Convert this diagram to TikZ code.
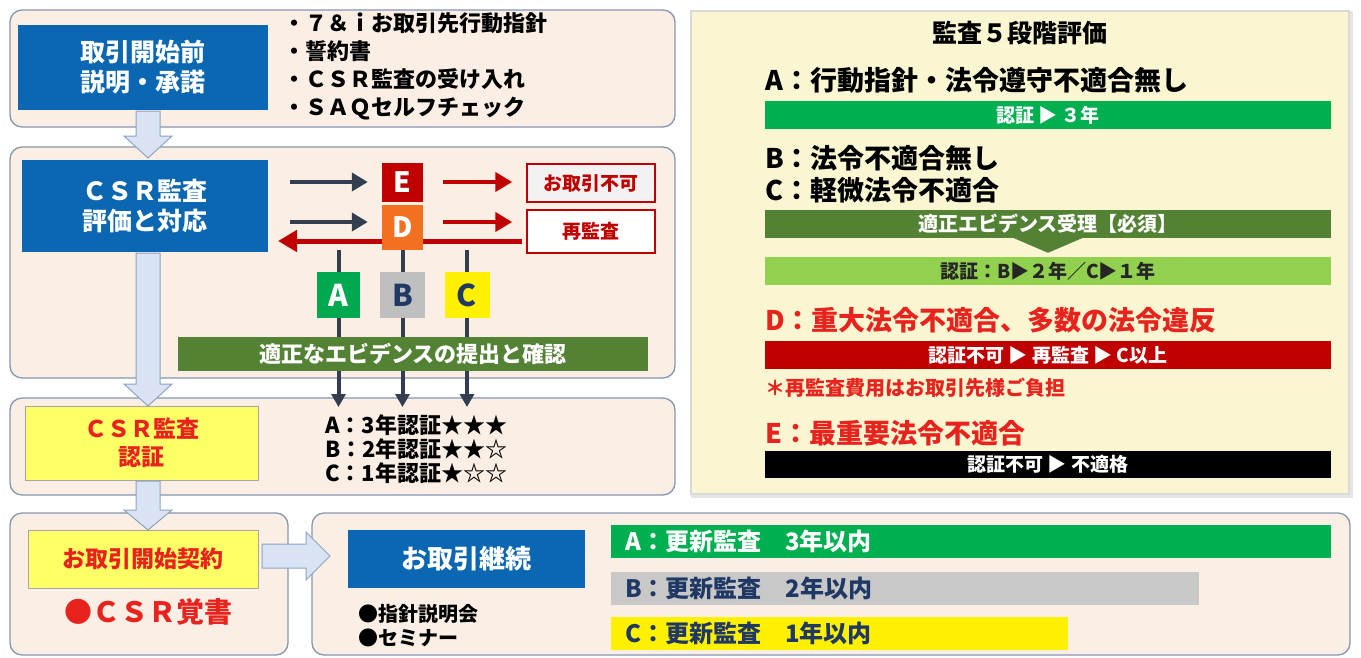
\documentclass[tikz,border=0pt]{standalone}
\usepackage{fontspec}
\newfontfamily\jp{Noto Sans CJK JP}
\usetikzlibrary{arrows.meta,calc}
\definecolor{pnlf}{HTML}{FBEFE5}
\definecolor{pnlb}{HTML}{8497B0}
\definecolor{myblue}{HTML}{0B67B2}
\definecolor{navy}{HTML}{333F50}
\definecolor{dred}{HTML}{C00000}
\definecolor{orangeD}{HTML}{F37021}
\definecolor{greenA}{HTML}{00A94F}
\definecolor{grayB}{HTML}{BFBFBF}
\definecolor{navytxt}{HTML}{203864}
\definecolor{yellowC}{HTML}{FFF100}
\definecolor{olive}{HTML}{548235}
\definecolor{lgreen}{HTML}{92D050}
\definecolor{barG}{HTML}{00B050}
\definecolor{barGray}{HTML}{C8C8C8}
\definecolor{ylw}{HTML}{FFFF66}
\definecolor{redtxt}{HTML}{E8231E}
\definecolor{rpf}{HTML}{FAF6D2}
\definecolor{lblue}{HTML}{DAE3F3}
\definecolor{lbord}{HTML}{8EA3C2}
\newcommand\fz[2]{\fontsize{#1}{#2}\selectfont}
\newcommand\vblock[3]{\draw[blockarr] ($(#1)+(-12,0)$) -- ($(#1)+(12,0)$) -- ($(#2)+(12,-#3)$) -- ($(#2)+(24,-#3)$) -- (#2) -- ($(#2)+(-24,-#3)$) -- ($(#2)+(-12,-#3)$) -- cycle;}
\begin{document}
\begin{tikzpicture}[x=1pt,y=-1pt,
  panel/.style={draw=pnlb, fill=pnlf, line width=1.3pt, rounded corners=12pt, inner sep=0pt},
  box/.style={inner sep=0pt, align=center, font=\jp\bfseries},
  bluebox/.style={box, fill=myblue, text=white},
  yelbox/.style={box, fill=ylw, draw=gray!70, line width=0.8pt, text=redtxt},
  letter/.style={box, font=\jp\bfseries\fz{30}{32}},
  bar/.style={inner sep=0pt, align=center, font=\jp\bfseries\fz{19}{22}, text=white, minimum width=566pt, minimum height=28pt},
  lbar/.style={inner sep=0pt, inner xsep=14pt, align=left, font=\jp\bfseries\fz{24}{26}, minimum height=33pt},
  txt/.style={inner sep=0pt, anchor=west, align=left, font=\jp\bfseries},
  navyarr/.style={draw=navy, line width=4.5pt, -{Triangle[length=16pt,width=18pt]}},
  redarr/.style={draw=dred, line width=4.5pt, -{Triangle[length=17pt,width=19pt]}},
  vline/.style={draw=navy, line width=4pt, -{Triangle[length=13pt,width=14pt]}},
  blockarr/.style={fill=lblue, draw=lbord, line width=1pt, line join=miter},
  outbox/.style={box, draw=dred, line width=1.5pt, text=dred, font=\jp\bfseries\fz{19}{22}, minimum width=128pt}]
\useasboundingbox[fill=white] (0,0) rectangle (1361,657);

% ---------- panels ----------
\node[panel, minimum width=665pt, minimum height=117pt] (p1) at (342.5,68.5) {};
\node[panel, minimum width=665pt, minimum height=231pt] (p2) at (342.5,262.5) {};
\node[panel, minimum width=665pt, minimum height=97pt] (p3) at (342.5,446.5) {};
\node[panel, minimum width=278pt, minimum height=142pt] (p4) at (149,584) {};
\node[panel, minimum width=1038pt, minimum height=142pt] (p5) at (831,584) {};

% ---------- panel 1 ----------
\node[bluebox, font=\jp\bfseries\fz{25}{30}, minimum width=250pt, minimum height=85pt] (b1) at (143,67.5) {取引開始前\\説明・承諾};
\node[txt, font=\jp\bfseries\fz{22}{28}] (bl) at (283,66) {・７＆ｉお取引先行動指針\\・誓約書\\・ＣＳＲ監査の受け入れ\\・ＳＡＱセルフチェック};

% ---------- panel 2 ----------
\node[bluebox, font=\jp\bfseries\fz{25}{30}, minimum width=246pt, minimum height=92pt] (b2) at (145,206) {ＣＳＲ監査\\評価と対応};
\node[outbox, fill=gray!10, minimum height=38pt] (ng) at (591,183) {お取引不可};
\node[outbox, fill=white, minimum height=43pt] (re) at (591,231.5) {再監査};
\coordinate (rs0) at ($(re.west)+(-4,9.5)$);
\coordinate (rb) at (278,241);
\draw[redarr, line width=5pt, -{Triangle[length=19pt,width=21pt]}] (rs0) -- (rb);

\node[box, fill=dred, text=white, font=\jp\bfseries\fz{28}{30}, minimum width=41pt, minimum height=39pt] (E) at (402.5,182.5) {E};
\node[box, fill=orangeD, text=white, font=\jp\bfseries\fz{28}{30}, minimum width=41pt, minimum height=45pt] (D) at (402.5,227.5) {D};

\coordinate (ne) at (290,182);
\coordinate (nd) at (290,222);
\draw[navyarr, shorten >=14pt] (ne) -- (ne -| E.west);
\draw[navyarr, shorten >=14pt] (nd) -- (nd -| D.west);
\coordinate (er) at (423,182);
\coordinate (dr) at (423,222);
\draw[redarr, shorten <=20pt, shorten >=14pt] (er) -- (er -| ng.west);
\draw[redarr, shorten <=20pt, shorten >=14pt] (dr) -- (dr -| re.west);

\coordinate (ty) at (0,407);
\coordinate (A) at (338.5,295);
\coordinate (B) at (402.5,295);
\coordinate (C) at (467,295);
\draw[vline] (A |- D.south) -- (A |- ty);
\draw[vline] (B |- D.south) -- (B |- ty);
\draw[vline] (C |- D.south) -- (C |- ty);
\node[letter, fill=greenA, text=white, minimum width=43pt, minimum height=46pt] (nA) at (A) {A};
\node[letter, fill=grayB, text=navytxt, minimum width=45pt, minimum height=46pt] (nB) at (B) {B};
\node[letter, fill=yellowC, text=navytxt, minimum width=45pt, minimum height=46pt] (nC) at (C) {C};
\node[box, fill=olive, text=white, font=\jp\bfseries\fz{22}{24}, minimum width=470pt, minimum height=34pt] (ev) at (413,354) {適正なエビデンスの提出と確認};

% ---------- panel 3 ----------
\node[yelbox, font=\jp\bfseries\fz{23}{28}, minimum width=233pt, minimum height=74pt] (y1) at (141.5,443) {ＣＳＲ監査\\認証};
\node[txt, font=\jp\bfseries\fz{22}{24}] (cert) at (325,449) {A：3年認証★★★\\B：2年認証★★☆\\C：1年認証★☆☆};

% ---------- panel 4 ----------
\node[yelbox, font=\jp\bfseries\fz{23}{26}, minimum width=230pt, minimum height=58pt] (y2) at (143,559) {お取引開始契約};
\node[box, text=redtxt, font=\jp\bfseries\fz{28}{30}] (memo) at (148,612) {●ＣＳＲ覚書};

% ---------- panel 5 ----------
\node[bluebox, font=\jp\bfseries\fz{26}{30}, minimum width=237pt, minimum height=58pt] (b5) at (466.5,559) {お取引継続};
\node[txt, font=\jp\bfseries\fz{20}{24}] (sem) at (358,626) {●指針説明会\\●セミナー};
\node[lbar, fill=barG, text=white, text width=692pt, anchor=west] (ba) at (611,541.5) {A：更新監査　3年以内};
\node[lbar, fill=barGray, text=navytxt, text width=560pt, anchor=west] (bb) at (611,588) {B：更新監査　2年以内};
\node[lbar, fill=yellowC, text=navytxt, text width=429pt, anchor=west] (bc) at (611,633.5) {C：更新監査　1年以内};

% ---------- block arrows ----------
\coordinate (a1s) at (148,111); \coordinate (a1e) at (148,158);
\coordinate (a2s) at (148,253); \coordinate (a2e) at (148,406);
\coordinate (a3s) at (148,481); \coordinate (a3e) at (148,530);
\vblock{a1s}{a1e}{22}
\vblock{a2s}{a2e}{22}
\vblock{a3s}{a3e}{20}
\coordinate (h1) at (262,556); \coordinate (h2) at (330,556);
\draw[blockarr] ($(h1)+(0,-12)$) -- ($(h2)+(-24,-12)$) -- ($(h2)+(-24,-24)$) -- (h2) -- ($(h2)+(-24,24)$) -- ($(h2)+(-24,12)$) -- ($(h1)+(0,12)$) -- cycle;

% ---------- right panel ----------
\node[inner sep=0pt, fill=gray!20, minimum width=662pt, minimum height=487pt] (rs) at (1022,254.5) {};
\node[inner sep=0pt, fill=rpf, draw=gray!30, line width=2.5pt, minimum width=658pt, minimum height=483pt] (rp) at (1020,252.5) {};
\node[box, font=\jp\bfseries\fz{25}{28}] (title) at (1020,33) {監査５段階評価};
\node[txt, font=\jp\bfseries\fz{27}{30}] (ta) at (765,80) {A：行動指針・法令遵守不適合無し};
\node[bar, fill=barG] (r1) at (1048,115) {認証 ▶ ３年};
\node[txt, font=\jp\bfseries\fz{27}{32}] (tbc) at (765,174) {B：法令不適合無し\\C：軽微法令不適合};
\node[bar, fill=olive, font=\jp\bfseries\fz{20}{22}] (r2) at (1048,224) {適正エビデンス受理【必須】};
\node[bar, fill=lgreen, text=black!85] (r3) at (1048,271) {認証：B▶２年／C▶１年};
\fill[olive] ($(r2.south)+(-34,0)$) -- ($(r2.south)+(34,0)$) -- ($(r3.north)+(0,-4)$) -- cycle;
\node[txt, text=redtxt, font=\jp\bfseries\fz{27}{30}] (td) at (765,320) {D：重大法令不適合、多数の法令違反};
\node[bar, fill=dred] (r4) at (1048,355) {認証不可 ▶ 再監査 ▶ C以上};
\node[txt, text=redtxt, font=\jp\bfseries\fz{20}{22}] (tn) at (765,388) {＊再監査費用はお取引先様ご負担};
\node[txt, text=redtxt, font=\jp\bfseries\fz{27}{30}] (te) at (765,433) {E：最重要法令不適合};
\node[bar, fill=black, minimum height=27pt] (r5) at (1048,464.5) {認証不可 ▶ 不適格};
\end{tikzpicture}
\end{document}
